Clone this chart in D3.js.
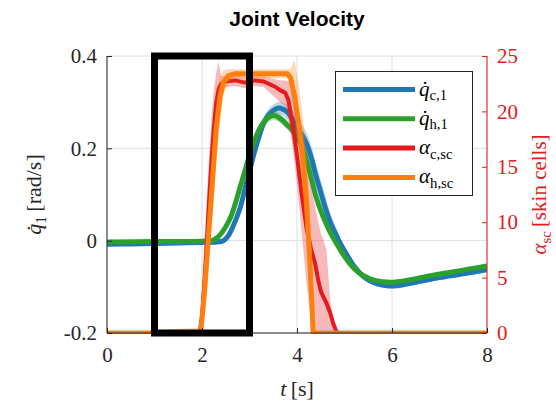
<!DOCTYPE html>
<html>
<head>
<meta charset="utf-8">
<script src="https://cdn.jsdelivr.net/npm/d3@7/dist/d3.min.js"></script>
<style>
  html, body { margin: 0; padding: 0; background: #fff; }
  svg { display: block; }
</style>
</head>
<body>
<div id="chart"></div>
<script>
// ---- data -------------------------------------------------------------
// joint velocity, commanded (c) and human (h), rad/s
const qcT = [0, 0.5, 1, 1.5, 2, 2.3, 2.45, 2.55, 2.65, 2.8, 2.9, 3.0, 3.1, 3.2, 3.3, 3.4, 3.5, 3.6, 3.7, 3.8, 3.9, 4.0, 4.1, 4.2, 4.3, 4.4, 4.5, 4.6, 4.7, 4.8, 4.9, 5.0, 5.2, 5.4, 5.6, 5.8, 6.0, 6.2, 6.5, 7.0, 7.5, 8.0];
const qcV = [-0.008, -0.007, -0.006, -0.005, -0.004, -0.003, 0.0, 0.01, 0.03, 0.07, 0.11, 0.15, 0.19, 0.225, 0.255, 0.272, 0.282, 0.287, 0.285, 0.278, 0.264, 0.245, 0.23, 0.21, 0.18, 0.14, 0.105, 0.07, 0.04, 0.018, -0.004, -0.022, -0.055, -0.078, -0.09, -0.096, -0.098, -0.096, -0.09, -0.08, -0.072, -0.063];
const qcS = [0.004, 0.004, 0.004, 0.004, 0.004, 0.004, 0.005, 0.006, 0.008, 0.01, 0.012, 0.014, 0.015, 0.015, 0.014, 0.013, 0.013, 0.013, 0.014, 0.016, 0.018, 0.02, 0.022, 0.024, 0.026, 0.026, 0.026, 0.024, 0.02, 0.016, 0.012, 0.01, 0.007, 0.006, 0.006, 0.006, 0.006, 0.006, 0.005, 0.005, 0.005, 0.005];

const qhT = [0, 1, 2, 2.2, 2.3, 2.4, 2.5, 2.6, 2.7, 2.8, 2.9, 3.0, 3.1, 3.2, 3.3, 3.4, 3.5, 3.6, 3.7, 3.8, 3.9, 4.0, 4.1, 4.2, 4.3, 4.4, 4.5, 4.6, 4.7, 4.8, 4.9, 5.0, 5.2, 5.4, 5.6, 5.8, 6.0, 6.3, 6.7, 7.2, 7.6, 8.0];
const qhV = [-0.003, -0.002, -0.001, 0.0, 0.005, 0.015, 0.03, 0.05, 0.08, 0.115, 0.15, 0.185, 0.215, 0.24, 0.257, 0.267, 0.271, 0.268, 0.26, 0.25, 0.24, 0.225, 0.205, 0.175, 0.135, 0.095, 0.065, 0.04, 0.018, 0.0, -0.018, -0.034, -0.06, -0.076, -0.085, -0.089, -0.09, -0.086, -0.078, -0.069, -0.062, -0.055];
const qhS = [0.003, 0.003, 0.003, 0.003, 0.004, 0.005, 0.006, 0.007, 0.008, 0.009, 0.01, 0.01, 0.01, 0.01, 0.01, 0.01, 0.01, 0.01, 0.01, 0.011, 0.012, 0.013, 0.014, 0.015, 0.015, 0.014, 0.013, 0.012, 0.011, 0.01, 0.009, 0.008, 0.006, 0.005, 0.005, 0.005, 0.005, 0.004, 0.004, 0.004, 0.004, 0.004];

// active skin cells, commanded (c) and human (h)
const acT = [0, 1.95, 2.0, 2.05, 2.1, 2.15, 2.2, 2.25, 2.3, 2.35, 2.4, 2.5, 2.7, 2.9, 3.1, 3.3, 3.45, 3.55, 3.65, 3.75, 3.82, 3.9, 4.0, 4.1, 4.2, 4.3, 4.38, 4.45, 4.5, 4.55, 4.62, 4.7, 4.76, 4.83, 4.9, 8.0];
const acV = [0, 0, 1.5, 4.5, 8, 12, 15.5, 18.5, 20.8, 22, 22.5, 22.7, 22.8, 22.6, 22.8, 22.7, 22.4, 22.2, 21.9, 21.7, 21.0, 19.0, 16.0, 12.5, 9.5, 7.5, 6.3, 4.7, 3.8, 3.3, 2.7, 1.8, 0.9, 0.1, 0, 0];
const acLo = [0, 0, 0, 1.5, 4.5, 8, 12, 15, 18, 20.5, 21.5, 22.2, 22.3, 22.1, 22.3, 22.2, 21.6, 21.2, 20.8, 20.5, 19.5, 17, 13.5, 9, 4.5, 1, 0, 0, 0, 0, 0, 0, 0, 0, 0, 0];
const acHi = [0, 0, 4, 8, 12, 16, 19.5, 22, 23.5, 24.5, 23.2, 23.2, 23.3, 23.1, 23.3, 23.2, 23.0, 22.9, 22.8, 22.8, 22.7, 22.6, 21.5, 18, 15, 13, 11.5, 10, 9, 8.5, 7.5, 3, 1, 0.3, 0, 0];

const ahT = [0, 1.97, 2.05, 2.1, 2.2, 2.25, 2.3, 2.38, 2.45, 2.55, 2.7, 3.8, 3.87, 3.95, 4.05, 4.13, 4.2, 4.27, 4.32, 4.34, 8.0];
const ahV = [0, 0, 3.5, 6.5, 12.5, 15.5, 18.5, 21.3, 22.6, 23.2, 23.4, 23.4, 23.0, 21.3, 18.5, 15.6, 12.0, 6.5, 2, 0, 0];
const ahLo = [0, 0, 1.5, 4, 9.5, 12.5, 15.5, 19, 21.5, 22.6, 23.0, 23.0, 22.0, 19.5, 16, 12, 8, 3, 0, 0, 0];
const ahHi = [0, 0.5, 6, 9.5, 15.5, 18.5, 21, 23.2, 23.7, 23.8, 23.8, 23.8, 23.9, 24.6, 22, 19, 16, 10, 5, 0, 0];

// axis ticks
const xTicks = [0, 2, 4, 6, 8];
const yTicks = [-0.2, 0, 0.2, 0.4];
const yTickLabels = ["-0.2", "0", "0.2", "0.4"];
const rTicks = [0, 5, 10, 15, 20, 25];

// highlighted time window [s]
const windowT = [1, 3];

// ---- layout -----------------------------------------------------------
const W = 556, H = 409;
const L = 107, R = 487, T = 56, B = 333;
const SERIF = "Liberation Serif, DejaVu Serif, serif";

const colBlue = "#1f77b4", colGreen = "#2ca02c", colRed = "#e41a1c", colOrange = "#ff7f0e";
const axisDark = "#262626";

const x = d3.scaleLinear().domain([0, 8]).range([L, R]);
const yL = d3.scaleLinear().domain([-0.2, 0.4]).range([B, T]);
const yR = d3.scaleLinear().domain([0, 25]).range([B, T]);

const svg = d3.select("#chart").append("svg")
  .attr("width", W).attr("height", H)
  .attr("viewBox", `0 0 ${W} ${H}`);

svg.append("defs").append("clipPath").attr("id", "plotClip")
  .append("rect").attr("x", L).attr("y", T - 2).attr("width", R - L).attr("height", B - T + 3);

// grid
const grid = svg.append("g");
grid.selectAll(".gx").data(xTicks).join("line")
  .attr("x1", d => x(d)).attr("x2", d => x(d)).attr("y1", T).attr("y2", B)
  .attr("stroke", "#dedede").attr("stroke-width", 1);
grid.selectAll(".gy").data(yTicks).join("line")
  .attr("x1", L).attr("x2", R).attr("y1", d => yL(d)).attr("y2", d => yL(d))
  .attr("stroke", "#dedede").attr("stroke-width", 1);

// series helpers
const zip = (ts, vs) => ts.map((t, i) => [t, vs[i]]);
const band = (ts, lo, hi) => ts.map((t, i) => ({ t, lo: lo[i], hi: hi[i] }));

const plot = svg.append("g").attr("clip-path", "url(#plotClip)");

function smoothSeries(ts, vs, ss, color) {
  const b = band(ts, vs.map((v, i) => v - ss[i]), vs.map((v, i) => v + ss[i]));
  plot.append("path").datum(b)
    .attr("d", d3.area().x(d => x(d.t)).y0(d => yL(d.lo)).y1(d => yL(d.hi)).curve(d3.curveCatmullRom))
    .attr("fill", color).attr("fill-opacity", 0.3).attr("stroke", "none");
  plot.append("path").datum(zip(ts, vs))
    .attr("d", d3.line().x(d => x(d[0])).y(d => yL(d[1])).curve(d3.curveCatmullRom))
    .attr("fill", "none").attr("stroke", color).attr("stroke-width", 5)
    .attr("stroke-linejoin", "round");
}

function stepSeries(ts, vs, lo, hi, color, width) {
  plot.append("path").datum(band(ts, lo, hi))
    .attr("d", d3.area().x(d => x(d.t)).y0(d => yR(d.lo)).y1(d => yR(d.hi)))
    .attr("fill", color).attr("fill-opacity", 0.3).attr("stroke", "none");
  plot.append("path").datum(zip(ts, vs))
    .attr("d", d3.line().x(d => x(d[0])).y(d => yR(d[1])))
    .attr("fill", "none").attr("stroke", color).attr("stroke-width", width)
    .attr("stroke-linejoin", "round");
}

smoothSeries(qcT, qcV, qcS, colBlue);
smoothSeries(qhT, qhV, qhS, colGreen);
stepSeries(acT, acV, acLo, acHi, colRed, 4);
stepSeries(ahT, ahV, ahLo, ahHi, colOrange, 5);

// axes
const axL = svg.append("g").attr("transform", `translate(${L},0)`)
  .call(d3.axisLeft(yL).tickValues(yTicks).tickSize(-5).tickPadding(10)
    .tickFormat((d, i) => yTickLabels[i]));
const axR = svg.append("g").attr("transform", `translate(${R},0)`)
  .call(d3.axisRight(yR).tickValues(rTicks).tickSize(-5).tickPadding(10));
const axB = svg.append("g").attr("transform", `translate(0,${B})`)
  .call(d3.axisBottom(x).tickValues(xTicks).tickSize(-5).tickPadding(14));

[axL, axR, axB].forEach(a => {
  a.attr("font-family", SERIF).attr("font-size", 21);
  a.select(".domain").attr("stroke-width", 1);
  a.selectAll("text").attr("font-family", SERIF).attr("font-size", 21);
});
axL.select(".domain").attr("stroke", axisDark).attr("d", `M0,${B}V${T}`);
axL.selectAll("line").attr("stroke", axisDark);
axL.selectAll("text").attr("fill", axisDark);
axB.select(".domain").attr("stroke", axisDark).attr("d", `M${L},0H${R}`);
axB.selectAll("line").attr("stroke", axisDark);
axB.selectAll("text").attr("fill", axisDark);
axR.select(".domain").attr("stroke", colRed).attr("d", `M0,${B}V${T}`);
axR.selectAll("line").attr("stroke", colRed);
axR.selectAll("text").attr("fill", colRed);

// highlighted window
svg.append("rect")
  .attr("x", x(windowT[0])).attr("y", yL(0.4))
  .attr("width", x(windowT[1]) - x(windowT[0])).attr("height", yL(-0.2) - yL(0.4))
  .attr("fill", "none").attr("stroke", "#000").attr("stroke-width", 7);

// title
svg.append("text")
  .attr("x", (L + R) / 2).attr("y", 26).attr("text-anchor", "middle")
  .attr("font-family", "Liberation Sans, Arial, sans-serif")
  .attr("font-weight", "bold").attr("font-size", 21).attr("fill", "#000")
  .text("Joint Velocity");

// math-style label: italic symbol with dot/subscript, then upright unit
function mathLabel(g, opts) {
  const t = g.append("text").attr("font-family", SERIF).attr("font-size", opts.size)
    .attr("fill", opts.color).attr("text-anchor", opts.anchor || "start");
  t.append("tspan").attr("font-style", "italic").text(opts.sym);
  t.append("tspan").attr("font-size", opts.size * 0.7).attr("dy", opts.size * 0.22).text(opts.sub);
  if (opts.rest) t.append("tspan").attr("dy", -opts.size * 0.22).text(opts.rest);
  return t;
}

// x label
const xl = svg.append("text").attr("font-family", SERIF).attr("font-size", 22)
  .attr("x", (L + R) / 2).attr("y", 396).attr("text-anchor", "middle").attr("fill", axisDark);
xl.append("tspan").attr("font-style", "italic").text("t");
xl.append("tspan").text("\u2009[s]");

// left y label
const yl = svg.append("g").attr("transform", `translate(41,${(T + B) / 2}) rotate(-90)`);
mathLabel(yl, { sym: "q\u0307", sub: "1", rest: "\u2009[rad/s]", size: 22, color: axisDark, anchor: "middle" });

// right y label
const rl = svg.append("g").attr("transform", `translate(546,${(T + B) / 2}) rotate(-90)`);
mathLabel(rl, { sym: "\u03b1", sub: "sc", rest: "\u2009[skin cells]", size: 21, color: colRed, anchor: "middle" });

// legend
const legendItems = [
  { sym: "q\u0307", sub: "c,1", color: colBlue },
  { sym: "q\u0307", sub: "h,1", color: colGreen },
  { sym: "\u03b1", sub: "c,sc", color: colRed },
  { sym: "\u03b1", sub: "h,sc", color: colOrange }
];
const lg = svg.append("g");
lg.append("rect").attr("x", 335.5).attr("y", 71.5).attr("width", 137).attr("height", 124)
  .attr("fill", "#fff").attr("stroke", axisDark).attr("stroke-width", 1);
legendItems.forEach((it, i) => {
  const yy = 89.5 + i * 29.3;
  lg.append("line").attr("x1", 343).attr("x2", 415).attr("y1", yy).attr("y2", yy)
    .attr("stroke", it.color).attr("stroke-width", 5);
  const g = lg.append("g").attr("transform", `translate(419,${yy + 6})`);
  mathLabel(g, { sym: it.sym, sub: it.sub, size: 21, color: "#000" });
});
</script>
</body>
</html>
